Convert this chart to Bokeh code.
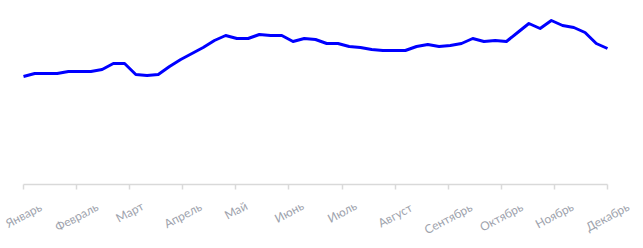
import math
from bokeh.plotting import figure
from bokeh.models import Range1d, FixedTicker
from bokeh.core.properties import value
from bokeh.embed import file_html
from bokeh.resources import INLINE

months = ["Январь", "Февраль", "Март", "Апрель", "Май", "Июнь",
          "Июль", "Август", "Сентябрь", "Октябрь", "Ноябрь", "Декабрь"]

weeks = list(range(53))
values = [108, 111, 111, 111, 113, 113, 113, 115, 121, 121,
          110, 109, 110, 118, 125, 131, 137, 144, 149, 146,
          146, 150, 149, 149, 143, 146, 145, 141, 141, 138,
          137, 135, 134, 134, 134, 138, 140, 138, 139, 141,
          146, 143, 144, 143, 152, 161, 156, 164, 159, 157,
          152, 141, 136]

n_weeks = 52
tick_pos = [i * n_weeks / 11 for i in range(12)]

# frame spans the whole canvas; data 0..52 sits between px 23 and 607
u = n_weeks / 584
p = figure(width=643, height=248, output_backend="svg", toolbar_location=None,
           x_range=Range1d(-23 * u, n_weeks + 36 * u), y_range=Range1d(-64, 184),
           min_border_left=0, min_border_right=0, min_border_top=0, min_border_bottom=0)
p.outline_line_color = None
p.background_fill_color = "white"
p.border_fill_color = "white"
p.grid.visible = False
p.yaxis.visible = False

p.line(weeks, values, line_color="#0000ff", line_width=3, line_join="round")

ax = p.xaxis[0]
ax.fixed_location = 0
ax.bounds = (0, n_weeks)
ax.ticker = FixedTicker(ticks=tick_pos)
ax.major_label_overrides = {t: "" for t in tick_pos}
ax.major_label_text_font_size = "0px"
ax.major_label_standoff = 0
ax.axis_line_color = "#d9d9d9"
ax.axis_line_width = 1.5
ax.major_tick_line_color = "#d9d9d9"
ax.major_tick_line_width = 1.5
ax.major_tick_in = 0
ax.major_tick_out = 5
ax.minor_tick_line_color = None

# month labels centred under the ticks, rotated
label_y = [-(21 + 1.6 * len(m)) for m in months]
p.text(x=tick_pos, y=label_y, text=months, angle=math.radians(28),
       text_align="center", text_baseline="middle", text_color="#9ea3ad",
       text_font=value("Lato"), text_font_size="12px")

open("out.html", "w").write(file_html(p, INLINE))
